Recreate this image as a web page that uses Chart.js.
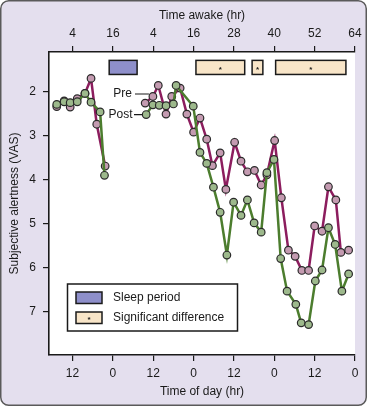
<!DOCTYPE html>
<html><head><meta charset="utf-8">
<script src="https://cdn.jsdelivr.net/npm/chart.js@4.4.1/dist/chart.umd.min.js"></script>
<style>html,body{margin:0;padding:0;background:#fff;}#wrap{width:367px;height:406px;position:relative}canvas{display:block}</style>
</head><body><div id="wrap"><canvas id="c" width="367" height="406"></canvas></div>
<script>
// ---- axis ticks ----
const dayTickValues = [0, 12, 24, 36, 48, 60, 72, 84];          // hours along the day axis
const dayTickLabels = ['12', '0', '12', '0', '12', '0', '12', '0'];
const awakeTickLabels = ['4', '16', '4', '16', '28', '40', '52', '64'];
const alertTicks = [2, 3, 4, 5, 6, 7];

// ---- Pre series (hours on day axis, VAS) ----
const preHours1 = [-4.7, -2.5, -0.7, 1.4, 3.7, 5.5, 7.2, 9.7];
const preValues1 = [2.34, 2.21, 2.35, 2.16, 2.04, 1.70, 2.74, 3.69];
const preHours2 = [21.6, 23.9, 25.5, 27.8, 29.5, 32.0, 34.0, 36.0, 37.9, 39.9, 41.6, 43.9, 45.6, 48.2, 50.1, 52.0,
                   54.1, 56.1, 57.8, 60.1, 62.1, 64.2, 66.2, 68.2, 70.2, 72.0, 74.2, 76.1, 78.3, 79.8, 82.1];
const preValues2 = [2.26, 2.11, 1.86, 2.51, 2.11, 1.92, 2.51, 2.92, 2.60, 3.08, 3.68, 3.39, 4.22, 3.15, 3.58, 3.82,
                    3.79, 4.12, 3.89, 3.11, 4.41, 5.60, 5.74, 6.06, 6.06, 5.05, 5.17, 4.16, 4.46, 5.65, 5.60];

// ---- Post series ----
const postHours1 = [-4.7, -2.5, -0.7, 1.4, 3.7, 5.5, 8.2, 9.5];
const postValues1 = [2.29, 2.23, 2.25, 2.23, 2.04, 2.24, 2.46, 3.90];
const postHours2 = [21.9, 23.9, 25.8, 27.8, 30.0, 30.8, 35.9, 37.9, 39.9, 41.9, 43.9, 45.9, 47.9, 50.1, 52.0,
                    54.0, 56.1, 57.8, 59.9, 61.9, 63.8, 66.4, 68.0, 70.2, 72.2, 74.2, 76.1, 78.1, 80.1, 82.1];
const postValues2 = [2.52, 2.30, 2.31, 2.32, 2.28, 1.86, 2.33, 3.38, 3.63, 4.17, 4.74, 5.71, 4.51, 4.81, 4.46,
                     4.98, 5.19, 3.84, 3.54, 5.79, 6.53, 6.83, 7.25, 7.29, 6.30, 6.05, 5.09, 5.47, 6.53, 6.14];

// ---- periods (hours on day axis) ----
const sleepPeriods = [[10.9, 19.2]];
const sigPeriods = [[36.7, 51.2], [53.4, 56.6], [60.4, 81.3]];

const FONT = '"Liberation Sans", Arial, Helvetica, sans-serif';
const INK = '#1a1a1a';

function toPts(h, v) { return h.map((x, i) => ({ x: x, y: v[i] })); }
const preData = [...toPts(preHours1, preValues1), { x: 15, y: null }, ...toPts(preHours2, preValues2)];
const postData = [...toPts(postHours1, postValues1), { x: 15, y: null }, ...toPts(postHours2, postValues2)];

const decor = {
  id: 'decor',
  beforeDraw(chart) {
    const ctx = chart.ctx, a = chart.chartArea;
    ctx.save();
    const r = 8;
    ctx.beginPath();
    ctx.moveTo(0.75 + r, 0.75);
    ctx.arcTo(366.25, 0.75, 366.25, 405.25, r);
    ctx.arcTo(366.25, 405.25, 0.75, 405.25, r);
    ctx.arcTo(0.75, 405.25, 0.75, 0.75, r);
    ctx.arcTo(0.75, 0.75, 366.25, 0.75, r);
    ctx.closePath();
    ctx.fillStyle = '#e4dfee';
    ctx.fill();
    ctx.lineWidth = 1.5;
    ctx.strokeStyle = '#5a5a5a';
    ctx.stroke();
    ctx.fillStyle = '#ffffff';
    ctx.fillRect(a.left, a.top, a.right - a.left, a.bottom - a.top);
    ctx.restore();
  },
  afterDraw(chart) {
    const ctx = chart.ctx, xs = chart.scales.x, ys = chart.scales.y;
    ctx.save();
    const yTop = ys.getPixelForValue(1.29), yBot = ys.getPixelForValue(1.61);
    ctx.lineWidth = 1.5;
    ctx.strokeStyle = INK;
    sleepPeriods.forEach(([s, e]) => {
      const x0 = xs.getPixelForValue(s), x1 = xs.getPixelForValue(e);
      ctx.fillStyle = '#8e8fca';
      ctx.fillRect(x0, yTop, x1 - x0, yBot - yTop);
      ctx.strokeRect(x0, yTop, x1 - x0, yBot - yTop);
    });
    sigPeriods.forEach(([s, e]) => {
      const x0 = xs.getPixelForValue(s), x1 = xs.getPixelForValue(e);
      ctx.fillStyle = '#f8e5c8';
      ctx.fillRect(x0, yTop, x1 - x0, yBot - yTop);
      ctx.strokeRect(x0, yTop, x1 - x0, yBot - yTop);
      ctx.fillStyle = INK;
      ctx.font = 'bold 8px ' + FONT;
      ctx.textAlign = 'center';
      ctx.textBaseline = 'middle';
      ctx.fillText('*', (x0 + x1) / 2, (yTop + yBot) / 2 + 2);
    });

    // legend
    ctx.fillStyle = '#ffffff';
    ctx.fillRect(67.5, 284, 170, 47);
    ctx.strokeRect(67.5, 284, 170, 47);
    ctx.fillStyle = '#8e8fca';
    ctx.fillRect(76, 292, 26, 11.5);
    ctx.strokeRect(76, 292, 26, 11.5);
    ctx.fillStyle = '#f8e5c8';
    ctx.fillRect(76, 312, 26, 11.5);
    ctx.strokeRect(76, 312, 26, 11.5);
    ctx.fillStyle = INK;
    ctx.font = 'bold 8px ' + FONT;
    ctx.textAlign = 'center';
    ctx.textBaseline = 'middle';
    ctx.fillText('*', 89, 320);
    ctx.font = '12px ' + FONT;
    ctx.textAlign = 'left';
    ctx.fillText('Sleep period', 113, 297.5);
    ctx.fillText('Significant difference', 113, 317.5);

    // Pre / Post labels
    const pX = xs.getPixelForValue(preHours2[1]), pY = ys.getPixelForValue(preValues2[1]);
    const qX = xs.getPixelForValue(postHours2[0]), qY = ys.getPixelForValue(postValues2[0]);
    ctx.lineWidth = 1.2;
    ctx.beginPath();
    ctx.moveTo(135, pY - 2.5); ctx.lineTo(pX - 4, pY - 2.5);
    ctx.moveTo(134, qY); ctx.lineTo(qX - 4, qY);
    ctx.stroke();
    ctx.textAlign = 'right';
    ctx.fillText('Pre', 132, pY - 2.5);
    ctx.fillText('Post', 132.5, qY);
    ctx.restore();
  }
};

const axisCommon = {
  grid: { display: true, drawOnChartArea: false, drawTicks: true, tickLength: 6, color: INK, lineWidth: 1.2 },
  border: { display: true, color: INK, width: 1.6 },
};

new Chart(document.getElementById('c'), {
  type: 'line',
  data: {
    datasets: [
      { label: 'Pre', data: preData, order: 2, borderColor: '#8c1d5e', borderWidth: 2.5,
        pointBackgroundColor: '#c49bb1', pointBorderColor: '#2a2a2a', pointBorderWidth: 1.2, pointRadius: 3.8,
        tension: 0, spanGaps: false },
      { label: 'Post', data: postData, order: 1, borderColor: '#4c7d2e', borderWidth: 2.5,
        pointBackgroundColor: '#9db98c', pointBorderColor: '#2a2a2a', pointBorderWidth: 1.2, pointRadius: 3.8,
        tension: 0, spanGaps: false }
    ]
  },
  options: {
    responsive: false,
    animation: false,
    layout: { padding: { left: 0, right: 12, top: 0, bottom: 0 } },
    plugins: { legend: { display: false }, tooltip: { enabled: false } },
    scales: {
      x: {
        type: 'linear', position: 'bottom', min: -7, max: 84, ...axisCommon,
        afterBuildTicks: s => { s.ticks = dayTickValues.map(v => ({ value: v })); },
        afterFit: s => { s.height = 51; },
        ticks: { color: INK, font: { family: FONT, size: 12 }, padding: 5, maxRotation: 0, autoSkip: false,
                 callback: (v, i) => dayTickLabels[i] },
        title: { display: true, text: 'Time of day (hr)', color: INK, font: { family: FONT, size: 12 },
                 padding: { top: 0, bottom: 7 } }
      },
      x2: {
        type: 'linear', position: 'top', min: -7, max: 84, ...axisCommon,
        afterBuildTicks: s => { s.ticks = dayTickValues.map(v => ({ value: v })); },
        afterFit: s => { s.height = 52; },
        ticks: { color: INK, font: { family: FONT, size: 12 }, padding: 5, maxRotation: 0, autoSkip: false,
                 callback: (v, i) => awakeTickLabels[i] },
        title: { display: true, text: 'Time awake (hr)', color: INK, font: { family: FONT, size: 12 },
                 padding: { top: 8, bottom: 0 } }
      },
      y: {
        type: 'linear', reverse: true, min: 1.1, max: 7.98, ...axisCommon,
        afterBuildTicks: s => { s.ticks = alertTicks.map(v => ({ value: v })); },
        afterFit: s => { s.width = 49; },
        ticks: { color: INK, font: { family: FONT, size: 12 }, padding: 7, callback: v => String(v) },
        title: { display: true, text: 'Subjective alertness (VAS)', color: INK, font: { family: FONT, size: 12 },
                 padding: { top: 7, bottom: 0 } }
      }
    }
  },
  plugins: [decor]
});
</script>
</body></html>
